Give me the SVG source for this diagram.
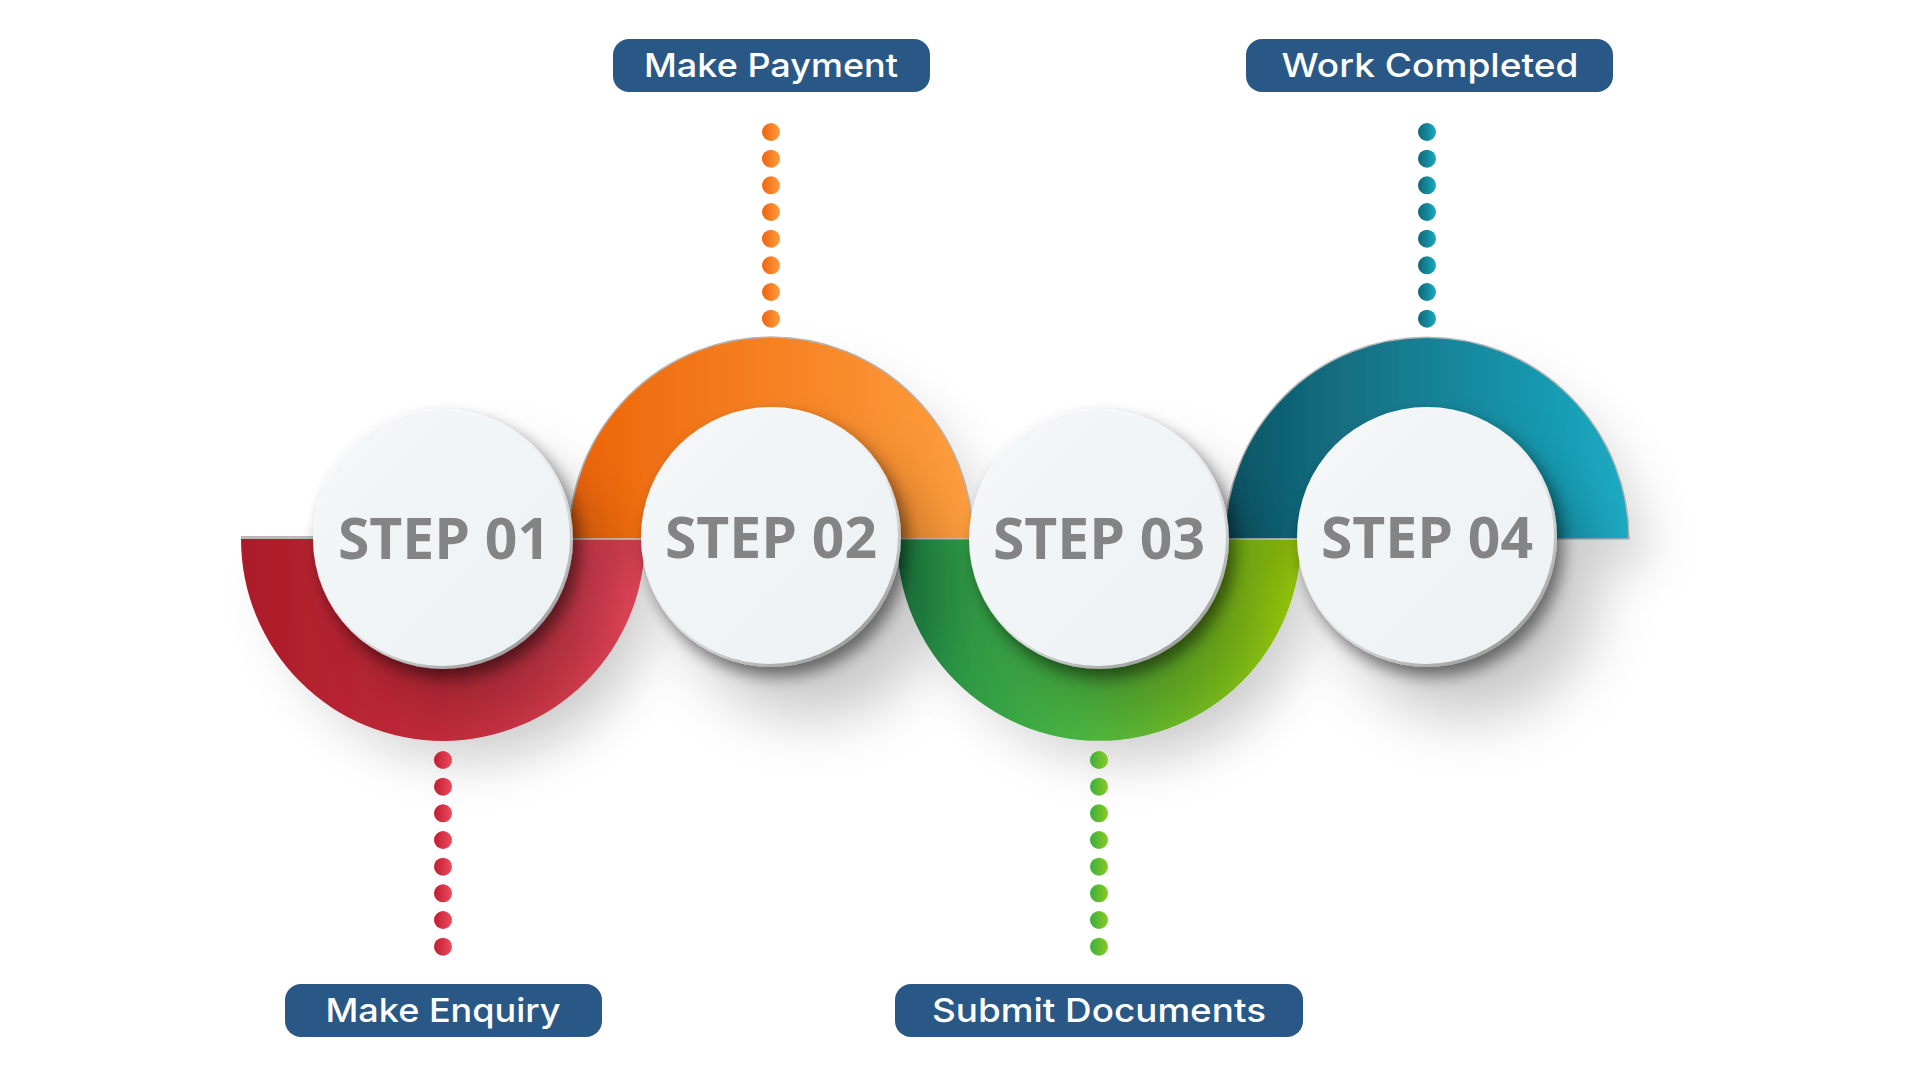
<svg xmlns="http://www.w3.org/2000/svg" width="1920" height="1080" viewBox="0 0 1920 1080">
  <style>
    .step { font-family: "Open Sans", "DejaVu Sans", sans-serif; font-weight: 700; font-size: 57px; fill: #848484; text-anchor: middle; }
    .lbl { font-family: Inter, "Liberation Sans", sans-serif; font-weight: 500; font-size: 33px; fill: #ffffff; text-anchor: middle; }
    .box { fill: #2a5886; }
    .rim { fill: url(#rimG); }
    .face { fill: url(#faceG); }
  </style>
  <defs>
    <linearGradient id="redG" x1="0" y1="0" x2="1" y2="0">
      <stop offset="0" stop-color="#aa1b28"/>
      <stop offset="0.5" stop-color="#c62c3c"/>
      <stop offset="1" stop-color="#e9475b"/>
    </linearGradient>
    <linearGradient id="orangeG" x1="0" y1="0" x2="1" y2="0">
      <stop offset="0" stop-color="#ed6408"/>
      <stop offset="1" stop-color="#fe9e3e"/>
    </linearGradient>
    <linearGradient id="greenG" x1="0" y1="0" x2="1" y2="0">
      <stop offset="0" stop-color="#1d8646"/>
      <stop offset="0.45" stop-color="#4bb843"/>
      <stop offset="1" stop-color="#9dcc08"/>
    </linearGradient>
    <linearGradient id="tealG" x1="0" y1="0" x2="1" y2="0">
      <stop offset="0" stop-color="#0f5566"/>
      <stop offset="1" stop-color="#1bacc4"/>
    </linearGradient>
    <linearGradient id="rimG" x1="0.2" y1="0.1" x2="0.8" y2="0.95">
      <stop offset="0" stop-color="#ffffff"/>
      <stop offset="0.55" stop-color="#e6e9ea"/>
      <stop offset="1" stop-color="#9a9a9a"/>
    </linearGradient>
    <linearGradient id="faceG" x1="0" y1="0" x2="1" y2="1">
      <stop offset="0" stop-color="#f5f7f8"/>
      <stop offset="1" stop-color="#ecf1f3"/>
    </linearGradient>
    <linearGradient id="dotRed" x1="0" y1="0" x2="1" y2="0">
      <stop offset="0" stop-color="#bf1d30"/>
      <stop offset="1" stop-color="#ef4a5e"/>
    </linearGradient>
    <linearGradient id="dotOrange" x1="0" y1="0" x2="1" y2="0">
      <stop offset="0" stop-color="#ee6510"/>
      <stop offset="1" stop-color="#ff9c3c"/>
    </linearGradient>
    <linearGradient id="dotGreen" x1="0" y1="0" x2="1" y2="0">
      <stop offset="0" stop-color="#3aae40"/>
      <stop offset="1" stop-color="#8cca20"/>
    </linearGradient>
    <linearGradient id="dotTeal" x1="0" y1="0" x2="1" y2="0">
      <stop offset="0" stop-color="#0e6676"/>
      <stop offset="1" stop-color="#1aaac0"/>
    </linearGradient>
    <filter id="arcShadow" x="-40%" y="-40%" width="180%" height="180%">
      <feGaussianBlur in="SourceAlpha" stdDeviation="22"/>
      <feOffset dx="25" dy="30" result="b"/>
      <feFlood flood-color="#000" flood-opacity="0.12"/>
      <feComposite in2="b" operator="in" result="s"/>
      <feMerge><feMergeNode in="s"/><feMergeNode in="SourceGraphic"/></feMerge>
    </filter>
    <filter id="circleShadow" x="-60%" y="-60%" width="220%" height="220%">
      <feGaussianBlur in="SourceAlpha" stdDeviation="30"/>
      <feOffset dx="40" dy="50" result="big"/>
      <feFlood flood-color="#000" flood-opacity="0.22"/>
      <feComposite in2="big" operator="in" result="bigS"/>
      <feGaussianBlur in="SourceAlpha" stdDeviation="8"/>
      <feOffset dx="6" dy="9" result="near"/>
      <feFlood flood-color="#000" flood-opacity="0.5"/>
      <feComposite in2="near" operator="in" result="nearS"/>
      <feMerge><feMergeNode in="bigS"/><feMergeNode in="nearS"/><feMergeNode in="SourceGraphic"/></feMerge>
    </filter>
  </defs>

  <rect width="1920" height="1080" fill="#ffffff"/>

  <!-- arcs -->
  <g id="arcs">
    <path id="arc1" filter="url(#arcShadow)" fill="url(#redG)" d="M241 539 A202 202 0 0 0 645 539 L571 539 A128 128 0 0 1 315 539 Z"/>
    <path id="arc2" filter="url(#arcShadow)" fill="url(#orangeG)" stroke="#b4b4b4" stroke-width="1.5" d="M569 539 A202 202 0 0 1 973 539 L899 539 A128 128 0 0 0 643 539 Z"/>
    <path id="arc3" filter="url(#arcShadow)" fill="url(#greenG)" d="M897 539 A202 202 0 0 0 1301 539 L1227 539 A128 128 0 0 1 971 539 Z"/>
    <path id="arc4" filter="url(#arcShadow)" fill="url(#tealG)" stroke="#b4b4b4" stroke-width="1.5" d="M1225 539 A202 202 0 0 1 1629 539 L1555 539 A128 128 0 0 0 1299 539 Z"/>
    <line x1="241" y1="537.5" x2="318" y2="537.5" stroke="#b9b9b9" stroke-width="3"/>
    <line x1="569" y1="539" x2="975" y2="539" stroke="#e8e8e8" stroke-width="1" opacity="0.6"/>
    <line x1="1225" y1="539" x2="1300" y2="539" stroke="#e8e8e8" stroke-width="1" opacity="0.6"/>
  </g>

  <!-- step circles -->
  <g id="step1" filter="url(#circleShadow)">
    <circle class="rim" cx="443" cy="539" r="130"/>
    <circle class="face" cx="442" cy="538" r="128"/>
    <text class="step" x="444" y="559">STEP 01</text>
  </g>
  <g id="step2" filter="url(#circleShadow)">
    <circle class="rim" cx="771" cy="537" r="130"/>
    <circle class="face" cx="770" cy="536" r="128"/>
    <text class="step" x="771" y="558">STEP 02</text>
  </g>
  <g id="step3" filter="url(#circleShadow)">
    <circle class="rim" cx="1099" cy="539" r="130"/>
    <circle class="face" cx="1098" cy="538" r="128"/>
    <text class="step" x="1099" y="559">STEP 03</text>
  </g>
  <g id="step4" filter="url(#circleShadow)">
    <circle class="rim" cx="1427" cy="537" r="130"/>
    <circle class="face" cx="1426" cy="536" r="128"/>
    <text class="step" x="1427" y="558">STEP 04</text>
  </g>

  <!-- dotted connectors -->
  <g id="connectors">
    <g fill="url(#dotRed)">
      <circle cx="443" cy="760" r="9"/><circle cx="443" cy="786.7" r="9"/><circle cx="443" cy="813.3" r="9"/><circle cx="443" cy="840" r="9"/>
      <circle cx="443" cy="866.7" r="9"/><circle cx="443" cy="893.3" r="9"/><circle cx="443" cy="920" r="9"/><circle cx="443" cy="946.7" r="9"/>
    </g>
    <g fill="url(#dotOrange)">
      <circle cx="771" cy="132" r="9"/><circle cx="771" cy="158.7" r="9"/><circle cx="771" cy="185.3" r="9"/><circle cx="771" cy="212" r="9"/>
      <circle cx="771" cy="238.7" r="9"/><circle cx="771" cy="265.3" r="9"/><circle cx="771" cy="292" r="9"/><circle cx="771" cy="318.7" r="9"/>
    </g>
    <g fill="url(#dotGreen)">
      <circle cx="1099" cy="760" r="9"/><circle cx="1099" cy="786.7" r="9"/><circle cx="1099" cy="813.3" r="9"/><circle cx="1099" cy="840" r="9"/>
      <circle cx="1099" cy="866.7" r="9"/><circle cx="1099" cy="893.3" r="9"/><circle cx="1099" cy="920" r="9"/><circle cx="1099" cy="946.7" r="9"/>
    </g>
    <g fill="url(#dotTeal)">
      <circle cx="1427" cy="132" r="9"/><circle cx="1427" cy="158.7" r="9"/><circle cx="1427" cy="185.3" r="9"/><circle cx="1427" cy="212" r="9"/>
      <circle cx="1427" cy="238.7" r="9"/><circle cx="1427" cy="265.3" r="9"/><circle cx="1427" cy="292" r="9"/><circle cx="1427" cy="318.7" r="9"/>
    </g>
  </g>

  <!-- labels -->
  <g id="label-payment">
    <rect class="box" x="613" y="39" width="317" height="53" rx="16"/>
    <text class="lbl" x="771" y="77" textLength="254" lengthAdjust="spacingAndGlyphs">Make Payment</text>
  </g>
  <g id="label-completed">
    <rect class="box" x="1246" y="39" width="367" height="53" rx="16"/>
    <text class="lbl" x="1430" y="77" textLength="297" lengthAdjust="spacingAndGlyphs">Work Completed</text>
  </g>
  <g id="label-enquiry">
    <rect class="box" x="285" y="984" width="317" height="53" rx="16"/>
    <text class="lbl" x="443" y="1022" textLength="235" lengthAdjust="spacingAndGlyphs">Make Enquiry</text>
  </g>
  <g id="label-documents">
    <rect class="box" x="895" y="984" width="408" height="53" rx="16"/>
    <text class="lbl" x="1099" y="1022" textLength="334" lengthAdjust="spacingAndGlyphs">Submit Documents</text>
  </g>
</svg>
